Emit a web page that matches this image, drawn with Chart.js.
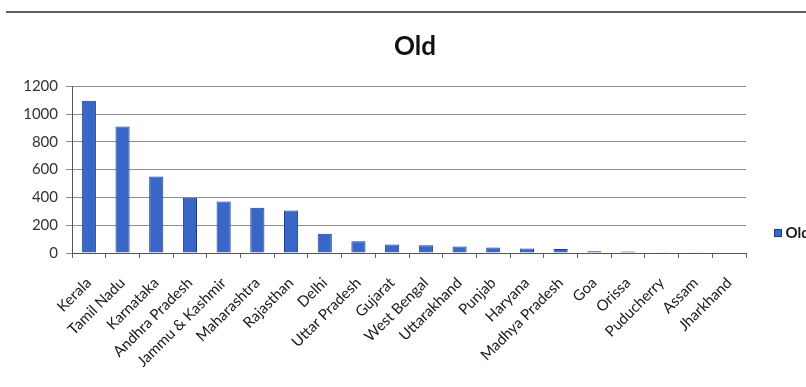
<!DOCTYPE html>
<html>
<head>
<meta charset="utf-8">
<script src="https://cdn.jsdelivr.net/npm/chart.js@4.4.1/dist/chart.umd.min.js"></script>
<style>
  html, body { margin: 0; padding: 0; background: #ffffff; overflow: hidden; }
  #wrap { position: relative; width: 806px; height: 387px; }
  #frame { position: absolute; left: 6px; top: 11px; right: 0; height: 0; border-top: 2px solid #5c5c5c; }
  canvas { position: absolute; left: 0; top: 0; }
</style>
</head>
<body>
<div id="wrap">
  <canvas id="c" width="806" height="387"></canvas>
  <div id="frame"></div>
</div>
<script>
const states = ['Kerala', 'Tamil Nadu', 'Karnataka', 'Andhra Pradesh', 'Jammu & Kashmir',
  'Maharashtra', 'Rajasthan', 'Delhi', 'Uttar Pradesh', 'Gujarat', 'West Bengal',
  'Uttarakhand', 'Punjab', 'Haryana', 'Madhya Pradesh', 'Goa', 'Orissa', 'Puducherry',
  'Assam', 'Jharkhand'];
const oldCounts = [1095, 910, 550, 397, 370, 325, 305, 138, 85, 62, 55, 47, 40, 33, 29, 12, 10, 5, 5, 4];
const seriesName = 'Old';
const yTicks = [0, 200, 400, 600, 800, 1000, 1200];

const FONT = 'Lato, "Open Sans", "Liberation Sans", sans-serif';

// Legend entry drawn to the right of the plot, running past the canvas edge
const sideLegend = {
  id: 'sideLegend',
  afterDraw(chart) {
    const ctx = chart.ctx;
    const ds = chart.data.datasets[0];
    const x = chart.chartArea.right + 28.5;
    const y = 229.5;
    ctx.save();
    ctx.fillStyle = ds.backgroundColor;
    ctx.strokeStyle = ds.borderColor;
    ctx.lineWidth = 1;
    ctx.fillRect(x, y, 7, 7);
    ctx.strokeRect(x, y, 7, 7);
    ctx.fillStyle = '#1a1a1a';
    ctx.font = 'bold 15px ' + FONT;
    ctx.textBaseline = 'middle';
    ctx.textAlign = 'left';
    ctx.fillText(ds.label, x + 11, y + 4);
    ctx.restore();
  }
};

new Chart(document.getElementById('c'), {
  type: 'bar',
  data: {
    labels: states,
    datasets: [{
      label: seriesName,
      data: oldCounts,
      backgroundColor: '#3967c8',
      borderColor: '#1d3a86',
      borderWidth: 1,
      barPercentage: 0.42,
      categoryPercentage: 1.0,
      yAxisID: 'y'
    }]
  },
  options: {
    responsive: false,
    animation: false,
    layout: { padding: { left: 24, right: 0, top: 0, bottom: 0 } },
    plugins: {
      legend: { display: false },
      tooltip: { enabled: false },
      title: {
        display: true,
        text: seriesName,
        color: '#111',
        font: { family: FONT, size: 26, weight: 'bold' },
        padding: { top: 31, bottom: 24 }
      }
    },
    scales: {
      x: {
        offset: true,
        grid: { display: true, offset: true, drawOnChartArea: false, drawTicks: true, tickLength: 5, color: '#666' },
        border: { display: true, color: '#555', width: 1 },
        ticks: {
          minRotation: 45, maxRotation: 45, autoSkip: false,
          color: '#1a1a1a', font: { family: FONT, size: 15 }, padding: 16
        },
        afterFit(scale) { scale.height = 134; }
      },
      y: {
        type: 'linear',
        position: 'left',
        min: 0, max: 1200,
        afterBuildTicks(scale) { scale.ticks = yTicks.map(v => ({ value: v })); },
        grid: { color: '#8f8f8f', lineWidth: 1, drawTicks: true, tickLength: 6 },
        border: { display: true, color: '#555', width: 1 },
        ticks: {
          color: '#333', font: { family: FONT, size: 15 }, padding: 8,
          callback: v => String(v)
        },
        afterFit(scale) { scale.width = 48; }
      },
      // empty right-hand strip that leaves room for the legend entry
      side: {
        type: 'linear',
        position: 'right',
        display: true,
        grid: { display: false },
        border: { display: false },
        ticks: { display: false },
        afterFit(scale) { scale.width = 60; }
      }
    }
  },
  plugins: [sideLegend]
});
</script>
</body>
</html>
